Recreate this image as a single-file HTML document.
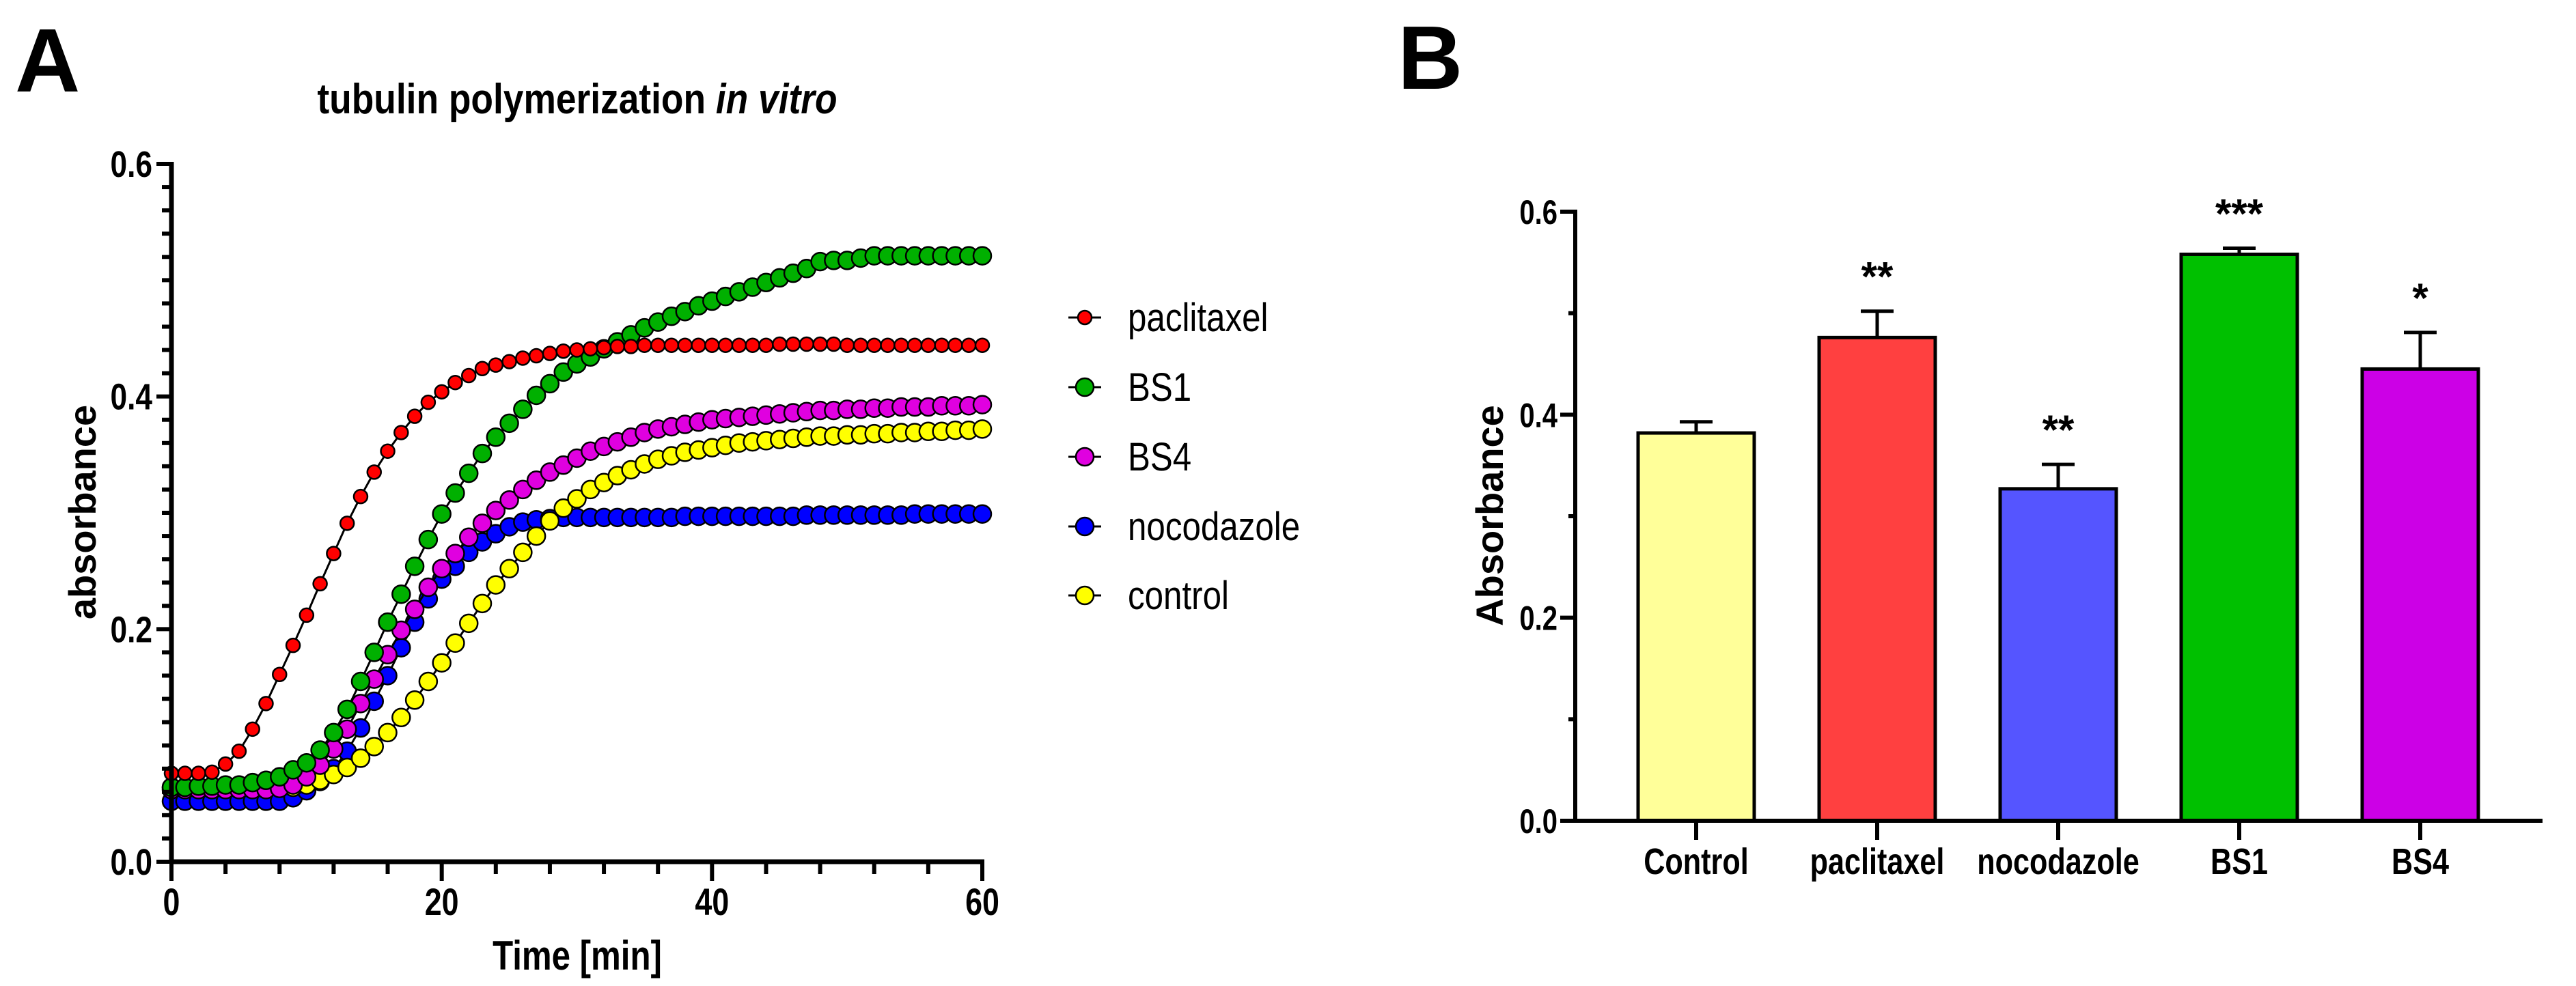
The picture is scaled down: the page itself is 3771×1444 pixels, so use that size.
<!DOCTYPE html>
<html><head><meta charset="utf-8">
<style>
html,body{margin:0;padding:0;background:#fff;}
svg{display:block;}
text{font-family:"Liberation Sans Narrow","Liberation Sans",sans-serif;fill:#000;}
.big{font-family:"Liberation Sans",sans-serif;font-weight:bold;}
</style></head>
<body>
<svg id="fig" width="3771" height="1444" viewBox="0 0 3771 1444" xmlns="http://www.w3.org/2000/svg">
<text class="big" x="22" y="134" font-size="132">A</text>
<text class="big" x="2046" y="130" font-size="132">B</text>
<text x="0" y="0" transform="translate(845,166) scale(0.86,1)" font-size="62" font-weight="bold" text-anchor="middle">tubulin polymerization <tspan font-style="italic">in vitro</tspan></text>
<g id="A"></g>
<g id="B"></g>
</svg>
<script>
// ---- Panel A data ----
const timeMin = Array.from({length:61},(_, i)=>i);
const paclitaxel = [0.076,0.076,0.076,0.077,0.084,0.095,0.114,0.136,0.161,0.186,0.212,0.239,0.265,0.291,0.314,0.335,0.353,0.369,0.383,0.395,0.404,0.412,0.418,0.424,0.427,0.430,0.433,0.435,0.437,0.439,0.440,0.441,0.442,0.443,0.443,0.444,0.444,0.444,0.444,0.444,0.444,0.444,0.444,0.444,0.444,0.445,0.445,0.445,0.445,0.445,0.444,0.444,0.444,0.444,0.444,0.444,0.444,0.444,0.444,0.444,0.444];
const bs1 = [0.064,0.064,0.065,0.065,0.066,0.066,0.068,0.070,0.073,0.079,0.085,0.096,0.111,0.131,0.155,0.180,0.206,0.230,0.254,0.277,0.299,0.317,0.334,0.351,0.365,0.377,0.389,0.401,0.411,0.421,0.428,0.434,0.441,0.447,0.453,0.459,0.464,0.469,0.473,0.478,0.482,0.486,0.490,0.494,0.498,0.502,0.506,0.510,0.516,0.517,0.517,0.519,0.521,0.521,0.521,0.521,0.521,0.521,0.521,0.521,0.521];
const bs4 = [0.062,0.062,0.062,0.062,0.062,0.062,0.062,0.062,0.063,0.066,0.073,0.083,0.097,0.114,0.136,0.157,0.178,0.199,0.217,0.236,0.252,0.265,0.279,0.291,0.302,0.311,0.320,0.328,0.335,0.341,0.347,0.353,0.357,0.361,0.365,0.369,0.372,0.374,0.376,0.378,0.380,0.381,0.382,0.383,0.384,0.385,0.386,0.387,0.388,0.388,0.389,0.389,0.390,0.390,0.391,0.391,0.391,0.392,0.392,0.392,0.393];
const nocodazole = [0.052,0.052,0.052,0.052,0.052,0.052,0.052,0.052,0.052,0.055,0.061,0.069,0.080,0.095,0.115,0.138,0.160,0.184,0.206,0.226,0.243,0.254,0.266,0.275,0.282,0.288,0.292,0.294,0.295,0.296,0.296,0.296,0.296,0.296,0.296,0.296,0.296,0.296,0.297,0.297,0.297,0.297,0.297,0.297,0.297,0.297,0.297,0.298,0.298,0.298,0.298,0.298,0.298,0.298,0.298,0.299,0.299,0.299,0.299,0.299,0.299];
const control = [0.064,0.064,0.064,0.064,0.064,0.064,0.064,0.064,0.064,0.064,0.066,0.070,0.075,0.081,0.089,0.099,0.111,0.124,0.139,0.155,0.171,0.188,0.205,0.222,0.238,0.252,0.266,0.280,0.293,0.304,0.312,0.320,0.326,0.332,0.337,0.342,0.346,0.349,0.352,0.354,0.356,0.358,0.360,0.361,0.362,0.363,0.364,0.365,0.366,0.366,0.367,0.367,0.368,0.368,0.369,0.369,0.370,0.370,0.371,0.371,0.372];
const seriesNames = ["paclitaxel","BS1","BS4","nocodazole","control"];
const xTicksA = [0,20,40,60];
const yTicksA = ["0.0","0.2","0.4","0.6"];

// ---- Panel B data ----
const barCats = ["Control","paclitaxel","nocodazole","BS1","BS4"];
const barVals = [0.382,0.476,0.327,0.558,0.445];
const barErr = [0.011,0.026,0.024,0.006,0.036];
const barStars = ["","**","**","***","*"];
const yTicksB = ["0.0","0.2","0.4","0.6"];

const NS="http://www.w3.org/2000/svg";
function mk(parent, tag, attrs){const e=document.createElementNS(NS,tag);for(const k in attrs)e.setAttribute(k,attrs[k]);parent.appendChild(e);return e;}
function txt(parent,x,y,size,anchor,sx,bold){
  return mk(parent,'text',{x:0,y:0,transform:'translate('+x+','+y+') scale('+sx+',1)','font-size':size,'font-weight':bold?'bold':'normal','text-anchor':anchor});
}

// ===== Panel A =====
const A=document.getElementById('A');
const ax0=251, ax1=1438, ay0=1262, ay1=240;
const xA=t=>ax0+(t/60)*(ax1-ax0);
const yA=v=>ay0-(v/0.6)*(ay0-ay1);
const seriesData=[paclitaxel,bs1,bs4,nocodazole,control];
const colors=["#ff0000","#00b000","#e000e0","#0000ff","#ffff00"];
const radii=[10,13,13,13,13];
[3,4,2,1,0].forEach(si=>{
  const d=seriesData[si];
  const g=mk(A,'g',{});
  
  
  const pl=mk(g,'polyline',{points:d.map((v,i)=>xA(timeMin[i])+','+yA(v)).join(' '),fill:'none',stroke:'#000','stroke-width':3});
  
  
  d.forEach((v,i)=>{
    const c=mk(g,'circle',{cx:xA(timeMin[i]),cy:yA(v),r:radii[si],fill:colors[si],stroke:'#000','stroke-width':2.5});
    
    
  });
});
let e=mk(A,'line',{x1:ax0,y1:ay1-3,x2:ax0,y2:ay0+3,stroke:'#000','stroke-width':7});
 
e=mk(A,'line',{x1:ax0-3,y1:ay0,x2:ax1+3,y2:ay0,stroke:'#000','stroke-width':7});
 
for(let k=0;k<=30;k++){
  const v=k*0.02, y=yA(v), major=(k%10===0);
  const t=mk(A,'line',{x1:ax0-(major?22:14),y1:y,x2:ax0,y2:y,stroke:'#000','stroke-width':6});
   
}
yTicksA.forEach(s=>{
  const t=txt(A,ax0-28,yA(parseFloat(s))+19,54,'end',0.82,true);
  t.textContent=s;
   
});
for(let k=0;k<=15;k++){
  const tv=k*4, x=xA(tv), major=(tv%20===0);
  const t=mk(A,'line',{x1:x,y1:ay0,x2:x,y2:ay0+(major?28:18),stroke:'#000','stroke-width':6});
   
}
xTicksA.forEach(tv=>{
  const t=txt(A,xA(tv),1340,56,'middle',0.8,true);
  t.textContent=tv;
   
});
e=txt(A,845,1420,60,'middle',0.82,true);
e.textContent='Time [min]';
 
e=mk(A,'text',{x:0,y:0,'font-size':56,'font-weight':'bold','text-anchor':'middle',transform:'translate(140,750) rotate(-90)'});
e.textContent='absorbance'; e.style.fontFamily='"Liberation Sans",sans-serif';
 
const legY=[465,567,669,771,872];
seriesNames.forEach((n,i)=>{
  const g=mk(A,'g',{});
  
  
  mk(g,'line',{x1:1564,y1:legY[i],x2:1612,y2:legY[i],stroke:'#000','stroke-width':3});
  mk(g,'circle',{cx:1588,cy:legY[i],r:radii[i],fill:colors[i],stroke:'#000','stroke-width':2.5});
  const t=txt(g,1651,legY[i]+20,58,'start',0.85,false);
  t.textContent=n;
});

// ===== Panel B =====
const B=document.getElementById('B');
const bx0=2306, bx1=3722, by0=1202, by1=310;
const yB=v=>by0-(v/0.6)*(by0-by1);
const xB=i=>2483+i*265;
const barW=170;
const barColors=["#ffff99","#ff4040","#5555ff","#00c000","#cc00e6"];
barCats.forEach((c,i)=>{
  const cx=xB(i), top=yB(barVals[i]), et=yB(barVals[i]+barErr[i]);
  let l=mk(B,'line',{x1:cx,y1:top,x2:cx,y2:et,stroke:'#000','stroke-width':5});
   
  l=mk(B,'line',{x1:cx-24,y1:et,x2:cx+24,y2:et,stroke:'#000','stroke-width':5});
   
  const r=mk(B,'rect',{x:cx-barW/2,y:top,width:barW,height:by0-top,fill:barColors[i],stroke:'#000','stroke-width':5});
   
  if(barStars[i]){
    const s=mk(B,'text',{x:cx,y:et-30,'font-size':60,'font-weight':'bold','text-anchor':'middle'});
    s.textContent=barStars[i];
     
  }
  const t=mk(B,'line',{x1:cx,y1:by0,x2:cx,y2:by0+28,stroke:'#000','stroke-width':6});
   
  const lab=txt(B,cx,1280,54,'middle',0.8,true);
  lab.textContent=c;
   
});
e=mk(B,'line',{x1:bx0,y1:by1-3,x2:bx0,y2:by0+3,stroke:'#000','stroke-width':6});
 
e=mk(B,'line',{x1:bx0-3,y1:by0,x2:bx1,y2:by0,stroke:'#000','stroke-width':6});
 
for(let k=0;k<=6;k++){
  const y=yB(k*0.1), major=(k%2===0);
  const t=mk(B,'line',{x1:bx0-(major?22:10),y1:y,x2:bx0,y2:y,stroke:'#000','stroke-width':6});
   
}
yTicksB.forEach(s=>{
  const t=txt(B,2280,yB(parseFloat(s))+18,50,'end',0.8,true);
  t.textContent=s;
   
});
e=mk(B,'text',{x:0,y:0,'font-size':56,'font-weight':'bold','text-anchor':'middle',transform:'translate(2200,755) rotate(-90)'});
e.textContent='Absorbance'; e.style.fontFamily='"Liberation Sans",sans-serif';
 
</script>
</body></html>
